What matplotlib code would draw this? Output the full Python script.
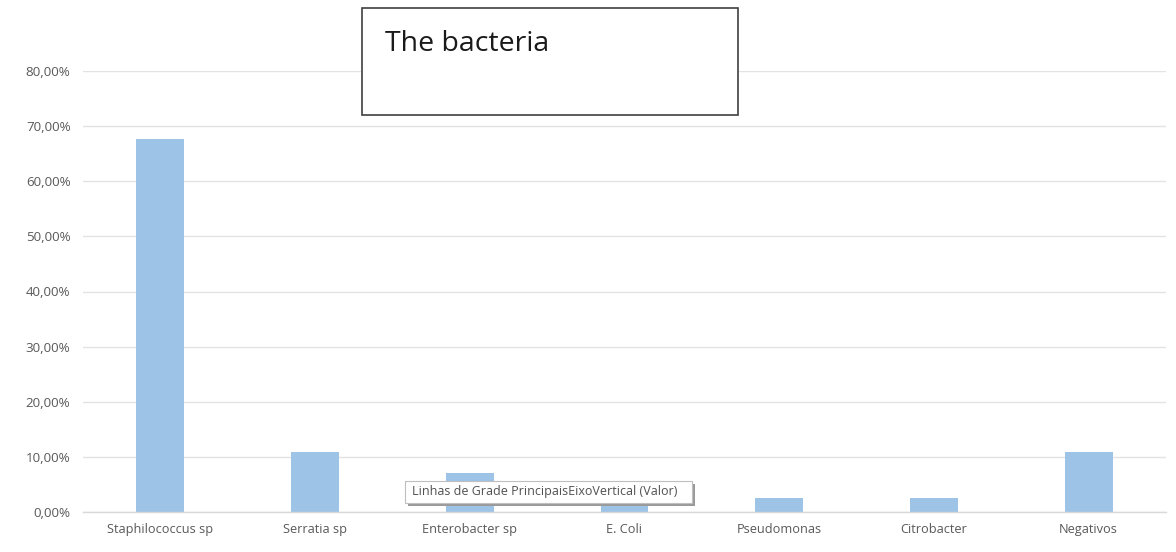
import matplotlib
matplotlib.use("Agg")
import matplotlib.pyplot as plt
from matplotlib.patches import Rectangle
from matplotlib.ticker import FuncFormatter

categories = ["Staphilococcus sp", "Serratia sp", "Enterobacter sp", "E. Coli",
              "Pseudomonas", "Citrobacter", "Negativos"]
shares = [0.676, 0.108, 0.071, 0.045, 0.025, 0.025, 0.108]
y_ticks = [0.0, 0.1, 0.2, 0.3, 0.4, 0.5, 0.6, 0.7, 0.8]

title_text = "The bacteria"
tooltip_text = "Linhas de Grade PrincipaisEixoVertical (Valor)"

W, H = 1176, 552
fig = plt.figure(figsize=(W / 100, H / 100), dpi=100)
fig.patch.set_facecolor("white")

ax = fig.add_axes([83 / W, 40 / H, (1166 - 83) / W, 441 / H])
x = range(len(categories))
ax.bar(x, shares, width=0.31, color="#9DC3E6", zorder=2)

ax.set_xlim(-0.5, len(categories) - 0.5)
ax.set_ylim(0, 0.8)
ax.set_yticks(y_ticks)
ax.yaxis.set_major_formatter(
    FuncFormatter(lambda v, _: f"{v * 100:.2f}".replace(".", ",") + "%"))
ax.set_xticks(list(x))
ax.set_xticklabels(categories)

ax.grid(axis="y", color="#E3E3E3", linewidth=1.0, zorder=0)
ax.set_axisbelow(True)
for side in ("top", "right", "left"):
    ax.spines[side].set_visible(False)
ax.spines["bottom"].set_color("#D9D9D9")
ax.spines["bottom"].set_linewidth(1.0)

tick_family = ["Open Sans", "DejaVu Sans"]
ax.tick_params(axis="both", length=0)
ax.tick_params(axis="y", pad=9)
ax.tick_params(axis="x", pad=8)
for lab in ax.get_yticklabels():
    lab.set_fontfamily(tick_family)
    lab.set_fontsize(9.6)
    lab.set_color("#595959")
for lab in ax.get_xticklabels():
    lab.set_fontfamily(tick_family)
    lab.set_fontsize(9.2)
    lab.set_color("#595959")

# Title box
fig.add_artist(Rectangle((362 / W, 1 - 115 / H), (738 - 362) / W, (115 - 8) / H,
                         transform=fig.transFigure, facecolor="white",
                         edgecolor="#404040", linewidth=1.2, zorder=5))
fig.text(385 / W, 1 - 44 / H, title_text, fontsize=20.5,
         family=["Open Sans", "DejaVu Sans"], color="#1a1a1a",
         va="center", ha="left", zorder=6)

# Hover tooltip
tx0, tx1, ty0, ty1 = 405, 692, 481, 503
fig.add_artist(Rectangle(((tx0 + 3) / W, 1 - (ty1 + 3) / H), (tx1 - tx0) / W,
                         (ty1 - ty0) / H, transform=fig.transFigure,
                         facecolor="#9a9a9a", edgecolor="none", zorder=7))
fig.add_artist(Rectangle((tx0 / W, 1 - ty1 / H), (tx1 - tx0) / W, (ty1 - ty0) / H,
                         transform=fig.transFigure, facecolor="white",
                         edgecolor="#BFBFBF", linewidth=0.8, zorder=8))
fig.text((tx0 + 7) / W, 1 - ((ty0 + ty1) / 2) / H, tooltip_text, fontsize=9.0,
         family=["Open Sans", "DejaVu Sans"], color="#505050",
         va="center", ha="left", zorder=9)

fig.savefig("out.png", dpi=100, facecolor="white")
